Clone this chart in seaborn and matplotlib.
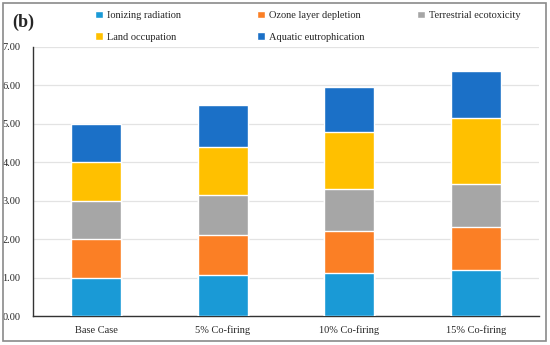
import numpy as np
import pandas as pd
import seaborn as sns
import matplotlib.pyplot as plt
from matplotlib.patches import Rectangle

# Dados (contribuição de cada categoria de impacto)
cenarios = ['Base Case', '5% Co-firing', '10% Co-firing', '15% Co-firing']
ionizing = [1.00, 1.06, 1.13, 1.19]
ozone = [1.00, 1.04, 1.07, 1.13]
terrestrial = [1.00, 1.04, 1.10, 1.11]
land = [1.00, 1.25, 1.48, 1.71]
aquatic = [1.00, 1.08, 1.16, 1.23]

series_nomes = ['Ionizing radiation', 'Ozone layer depletion', 'Terrestrial ecotoxicity',
                'Land occupation', 'Aquatic eutrophication']
cores = ['#1a9ad6', '#fb7f25', '#a6a6a6', '#ffc000', '#1b70c7']

sns.set_theme(style='white')
plt.rcParams['font.family'] = ['Liberation Serif', 'DejaVu Serif']

dados = pd.DataFrame({'cenario': cenarios})
valores = [ionizing, ozone, terrestrial, land, aquatic]
acumulado = np.cumsum(np.array(valores), axis=0)

fig = plt.figure(figsize=(5.5, 3.45), dpi=100)
ax = fig.add_axes([0.06, 0.084, 0.92, 0.781])

# Desenha do topo para a base para empilhar as barras
for i in range(len(series_nomes) - 1, -1, -1):
    dados['total'] = acumulado[i]
    sns.barplot(data=dados, x='cenario', y='total', color=cores[i], width=0.395,
                saturation=1, label=series_nomes[i], ax=ax, zorder=3)

ax.set_ylim(0, 7)
ax.set_yticks(np.arange(0, 7.01, 1))
ax.set_yticklabels([f'{v:.2f}' for v in np.arange(0, 7.01, 1)], fontsize=7.5)
ax.tick_params(axis='x', labelsize=7.5, length=0, pad=7)
ax.tick_params(axis='y', length=0, pad=9)
ax.set_xlabel('')
ax.set_ylabel('')
ax.grid(axis='y', color='#e3e3e3', linewidth=0.9, zorder=0)
for lado in ['top', 'right']:
    ax.spines[lado].set_visible(False)
ax.spines['left'].set_color('#333333')
ax.spines['bottom'].set_color('#333333')
ax.spines['left'].set_linewidth(1.0)
ax.spines['bottom'].set_linewidth(1.0)
if ax.get_legend():
    ax.get_legend().remove()

# Legenda em três colunas com posições fixas (como no Excel)
handles, labels = ax.get_legend_handles_labels()
mapa = dict(zip(labels, handles))
colunas = [['Ionizing radiation', 'Land occupation'],
           ['Ozone layer depletion', 'Aquatic eutrophication'],
           ['Terrestrial ecotoxicity']]
xs = [95 / 550, 257 / 550, 417 / 550]
for x, col in zip(xs, colunas):
    leg = fig.legend([mapa[n] for n in col], col, loc='upper left',
                     bbox_to_anchor=(x, 0.969), frameon=False, fontsize=7.5,
                     handlelength=0.75, handleheight=0.75, handletextpad=0.4,
                     borderpad=0, borderaxespad=0, labelspacing=1.15)

fig.text(0.022, 0.935, '(b)', fontsize=13, fontweight='bold', va='center')
fig.patches.append(Rectangle((0.005, 0.012), 0.988, 0.978, transform=fig.transFigure,
                             fill=False, edgecolor='#8a8a8a', linewidth=1.2))

fig.savefig('out.png', dpi=100)
